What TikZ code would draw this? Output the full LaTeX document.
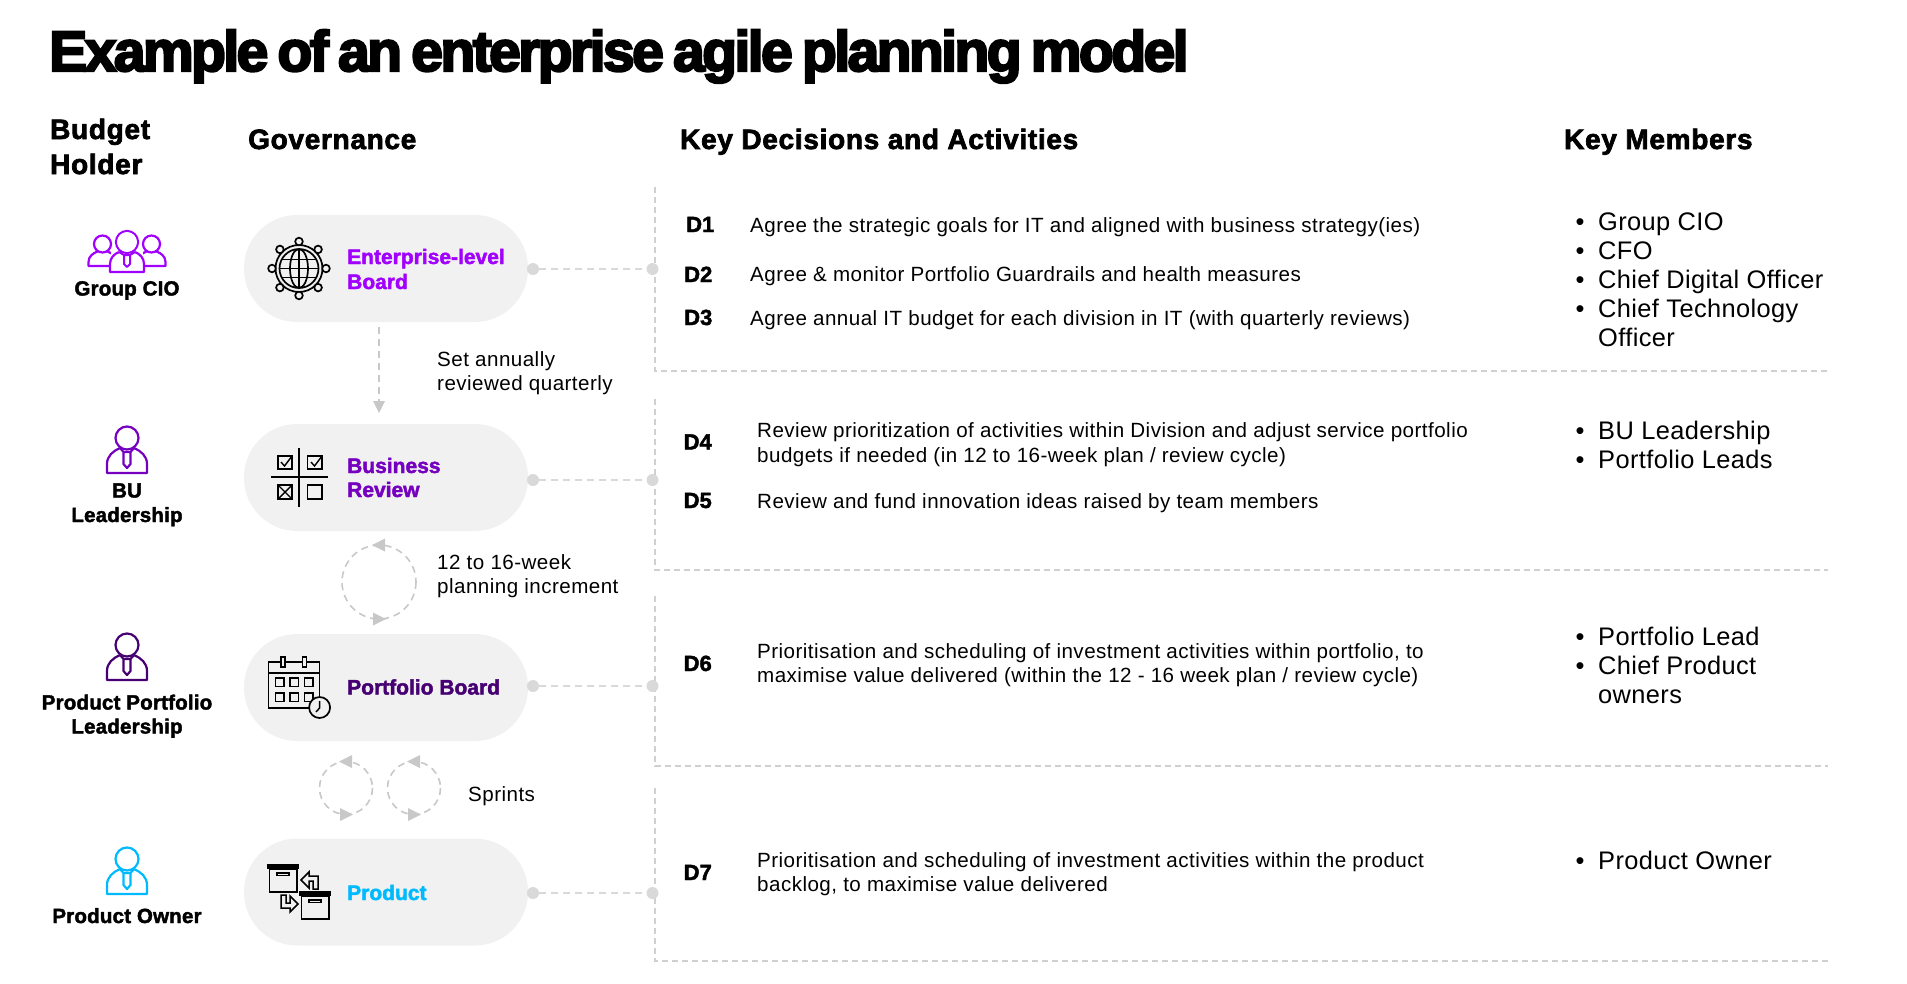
\documentclass[tikz,border=0pt]{standalone}
\usepackage{fontspec}
\setmainfont[LetterSpace=2.2]{Liberation Sans}
\newfontfamily\membf[LetterSpace=1.5]{Liberation Sans}
\newfontfamily\heavy[FakeBold=2]{Liberation Sans Bold}
\newfontfamily\headf[FakeBold=2.5,LetterSpace=2.5]{Liberation Sans Bold}
\newfontfamily\whof[FakeBold=2,LetterSpace=1]{Liberation Sans Bold}
\newfontfamily\titlef[FakeBold=4,LetterSpace=-4.5,WordSpace=0.7]{Liberation Sans Bold}
\definecolor{cA}{HTML}{A100FF}
\definecolor{cB}{HTML}{7500C0}
\definecolor{cC}{HTML}{460073}
\definecolor{cD}{HTML}{00BAFF}
\definecolor{pillg}{HTML}{F1F1F1}
\definecolor{dotg}{HTML}{D9D9D9}
\definecolor{lineg}{HTML}{C8C8C8}
\tikzset{
  x=1pt,y=-1pt,
  pill/.style={fill=pillg,draw=none,rounded corners=53pt,minimum width=284pt,minimum height=107pt,inner sep=0pt},
  dotn/.style={circle,fill=dotg,draw=none,minimum size=12pt,inner sep=0pt},
  rule/.style={draw=lineg!85!white,line width=1.4pt,dash pattern=on 6pt off 4pt},
  link/.style={draw=dotg,line width=1.6pt,dash pattern=on 7pt off 5pt},
  flow/.style={draw=lineg,line width=1.6pt,dash pattern=on 7pt off 5pt},
  tip/.style={fill=lineg,draw=none},
  body/.style={anchor=base west,inner sep=0pt,font=\fontsize{20.6}{20.6}\selectfont},
  memb/.style={anchor=base west,inner sep=0pt,font=\membf\fontsize{25.4}{25.4}\selectfont},
  head/.style={anchor=base west,inner sep=0pt,font=\headf\fontsize{28}{28}\selectfont},
  dlab/.style={anchor=base west,inner sep=0pt,font=\heavy\fontsize{22}{22}\selectfont},
  who/.style={anchor=base,inner sep=0pt,font=\whof\fontsize{20.5}{20.5}\selectfont},
  gov/.style={anchor=base west,inner sep=0pt,font=\heavy\fontsize{21}{21}\selectfont},
  icon/.style={line width=1.7pt,draw=black},
  pics/person/.style={code={
    \draw[draw=#1,line width=2.2pt] (0,0) circle (11.5);
    \draw[draw=#1,line width=2.2pt,line join=round] (-7,10) .. controls (-14,13) and (-20,18) .. (-20,26) -- (-20,35) -- (20,35) -- (20,26) .. controls (20,18) and (14,13) .. (7,10);
    \draw[draw=#1,line width=2.2pt,line join=round] (-7,10) -- (-3.5,14) -- (3.5,14) -- (7,10) (-3.5,14) -- (-3.5,26) -- (0,30) -- (3.5,26) -- (3.5,14);
  }},
  pics/smallperson/.style={code={
    \draw[draw=#1,line width=2.2pt] (0,0) circle (8.5);
    \draw[draw=#1,line width=2.2pt,line join=round] (-5,7.5) .. controls (-9,9) and (-14,12) .. (-14,18) -- (-14,22) -- (14,22) -- (14,18) .. controls (14,12) and (9,9) .. (5,7.5);
  }},
  pics/cycle/.style={code={
    \draw[flow] (0,0) circle (#1);
    \fill[tip] (-7,-#1) -- (6,-#1-6.5) -- (6,-#1+6.5) -- cycle;
    \fill[tip] (7,#1) -- (-6,#1-6.5) -- (-6,#1+6.5) -- cycle;
  }},
}
\begin{document}
\begin{tikzpicture}
\useasboundingbox (0,0) rectangle (1907,983);

% title + headers
\node[anchor=base west,inner sep=0pt,font=\titlef\fontsize{57}{57}\selectfont] (title) at (49,71) {Example of an enterprise agile planning model};
\node[head] (hb1) at (50,139) {Budget};
\node[head] (hb2) at (50,174) {Holder};
\node[head] (hg) at (248,149) {Governance};
\node[head] (hk) at (680,149) {Key Decisions and Activities};
\node[head] (hm) at (1564,149) {Key Members};

% frame rules
\coordinate (v0) at (655,187); \coordinate (v1) at (655,371);
\coordinate (v2) at (655,399); \coordinate (v3) at (655,570);
\coordinate (v4) at (655,596); \coordinate (v5) at (655,766);
\coordinate (v6) at (655,788); \coordinate (v7) at (655,961);
\coordinate (h1) at (1828,371); \coordinate (h2) at (1828,570);
\coordinate (h3) at (1828,766); \coordinate (h4) at (1828,961);
\draw[rule] (v0) -- (v1) -- (h1);
\draw[rule] (v2) -- (v3) -- (h2);
\draw[rule] (v4) -- (v5) -- (h3);
\draw[rule] (v6) -- (v7) -- (h4);

% pills
\node[pill] (p1) at (386,268.5) {};
\node[pill] (p2) at (386,477.5) {};
\node[pill] (p3) at (386,687.5) {};
\node[pill] (p4) at (386,892) {};

% dots and links
\foreach \n/\yy in {1/269,2/480,3/686,4/893}{
  \node[dotn] (dl\n) at (533,\yy) {};
  \node[dotn] (dr\n) at (652.5,\yy) {};
  \draw[link] (dl\n) -- (dr\n);
}

% pill labels
\node[gov,text=cA] (g1a) at (347,264) {Enterprise-level};
\node[gov,text=cA] (g1b) at (347,289) {Board};
\node[gov,text=cB] (g2a) at (347,473) {Business};
\node[gov,text=cB] (g2b) at (347,497) {Review};
\node[gov,text=cC] (g3) at (347,694.5) {Portfolio Board};
\node[gov,text=cD] (g4) at (347,900) {Product};

% arrow and cycles
\coordinate (a0) at (379,327); \coordinate (a1) at (379,402);
\draw[flow] (a0) -- (a1);
\fill[tip] (379,413) -- (373,401) -- (385,401) -- cycle;
\pic at (379,582) {cycle=37};
\pic at (346,788) {cycle=26.5};
\pic at (414,788) {cycle=26.5};

% annotations
\node[body] (n1a) at (437,366) {Set annually};
\node[body] (n1b) at (437,390) {reviewed quarterly};
\node[body] (n2a) at (437,569) {12 to 16-week};
\node[body] (n2b) at (437,593) {planning increment};
\node[body] (n3) at (468,801) {Sprints};

% persons
\pic at (102.5,244) {smallperson=cA};
\pic at (151.5,244) {smallperson=cA};
\fill[white] (111,252) rectangle (143,273);
\draw[cA,line width=2.2pt] (127,242) circle (11);
\fill[white] (127,242) circle (9.9);
\draw[cA,line width=2.2pt,line join=round] (119,252) .. controls (114,254) and (110,258) .. (110,264) -- (110,272) -- (144,272) -- (144,264) .. controls (144,258) and (140,254) .. (135,252);
\draw[cA,line width=2pt,line join=round] (119,252) -- (124,255) -- (130,255) -- (135,252) (124,255) -- (124,264) -- (127,267) -- (130,264) -- (130,255);
\pic at (127,438) {person=cB};
\pic at (127,645) {person=cC};
\pic at (127,859) {person=cD};

% person labels
\node[who] (w1) at (127,295.5) {Group CIO};
\node[who] (w2a) at (127,497.5) {BU};
\node[who] (w2b) at (127,522) {Leadership};
\node[who] (w3a) at (127,709.5) {Product Portfolio};
\node[who] (w3b) at (127,733.5) {Leadership};
\node[who] (w4) at (127,923) {Product Owner};

% globe icon
\begin{scope}[shift={(299,268.5)}]
\draw[icon] (0,0) circle (23.5);
\draw[icon] (0,0) circle (19.5);
\draw[icon] (0,0) ellipse (9 and 19.5);
\draw[icon] (0,-19.5) -- (0,19.5) (-19.5,0) -- (19.5,0) (-17,-9) -- (17,-9) (-17,9) -- (17,9);
\foreach \a in {0,45,...,315}{
  \draw[icon,fill=pillg] (\a:27) circle (3.8);
}
\end{scope}

% checklist icon
\draw[black,line width=1.5pt] (299,448) -- (299,507) (271,477) -- (328,477);
\draw[icon] (278,456) rectangle (292,469);
\draw[icon] (307.5,456) rectangle (322,469);
\draw[icon] (278,485) rectangle (292,499);
\draw[icon] (307.5,485) rectangle (322,499);
\draw[black,line width=1.4pt] (281,462) -- (284.5,466) -- (292,456) (311,462) -- (314.5,466) -- (322,456);
\draw[black,line width=1.4pt] (278,485) -- (292,499) (292,485) -- (278,499);

% calendar icon
\draw[icon] (268.6,662) rectangle (319.6,708);
\draw[icon] (268.6,673) -- (319.6,673);
\draw[icon,fill=pillg] (281,657) rectangle (285,667);
\draw[icon,fill=pillg] (302.5,657) rectangle (306.5,667);
\foreach \xa in {275.5,290,304.5}{
  \foreach \ya in {678,693}{
    \draw[icon] (\xa,\ya) rectangle ++(8.5,8.5);
  }
}
\draw[icon,fill=pillg] (319.6,707.5) circle (10.5);
\draw[black,line width=1.4pt] (319.6,701) -- (319.6,708) -- (316,712);

% boxes icon
\draw[icon] (269.5,869) rectangle (297,892);
\draw[icon,fill=black] (267.5,865) rectangle (298,868.5);
\draw[icon] (277,873) rectangle (289,875.5);
\draw[icon] (301.5,896) rectangle (329,919);
\draw[icon,fill=black] (299.6,892) rectangle (330.6,895.5);
\draw[icon] (309,900) rectangle (321,902.5);
\draw[black,line width=1.5pt,line join=miter] (318,889) -- (318,876) -- (309,876) -- (309,872) -- (301,880) -- (309,888) -- (309,881) -- (313,881) -- (313,889) -- cycle;
\draw[black,line width=1.5pt,line join=miter] (281,895) -- (281,908) -- (290,908) -- (290,912) -- (298,904) -- (290,896) -- (290,903) -- (286,903) -- (286,895) -- cycle;

% decisions
\node[dlab] (d1) at (686,232) {D1};
\node[dlab] (d2) at (684,282) {D2};
\node[dlab] (d3) at (684,325) {D3};
\node[dlab] (d4) at (683.5,449.5) {D4};
\node[dlab] (d5) at (683.5,508) {D5};
\node[dlab] (d6) at (683.5,671) {D6};
\node[dlab] (d7) at (683.5,880) {D7};

\node[body] (t1) at (750,232) {Agree the strategic goals for IT and aligned with business strategy(ies)};
\node[body] (t2) at (750,281) {Agree \& monitor Portfolio Guardrails and health measures};
\node[body] (t3) at (750,325) {Agree annual IT budget for each division in IT (with quarterly reviews)};
\node[body] (t4a) at (757,437.5) {Review prioritization of activities within Division and adjust service portfolio};
\node[body] (t4b) at (757,462) {budgets if needed (in 12 to 16-week plan / review cycle)};
\node[body] (t5) at (757,508) {Review and fund innovation ideas raised by team members};
\node[body] (t6a) at (757,658) {Prioritisation and scheduling of investment activities within portfolio, to};
\node[body] (t6b) at (757,682) {maximise value delivered (within the 12 - 16 week plan / review cycle)};
\node[body] (t7a) at (757,867) {Prioritisation and scheduling of investment activities within the product};
\node[body] (t7b) at (757,891) {backlog, to maximise value delivered};

% members
\foreach \yy/\tt in {230/Group CIO,259/CFO,288/Chief Digital Officer,317/Chief Technology,
                     439/BU Leadership,468/Portfolio Leads,
                     645/Portfolio Lead,674/Chief Product,
                     869/Product Owner}{
  \node[memb] at (1598,\yy) {\tt};
  \node[memb,anchor=base] at (1580,\yy) {•};
}
\node[memb] (m4b) at (1598,346) {Officer};
\node[memb] (m7b) at (1598,703) {owners};
\end{tikzpicture}
\end{document}
